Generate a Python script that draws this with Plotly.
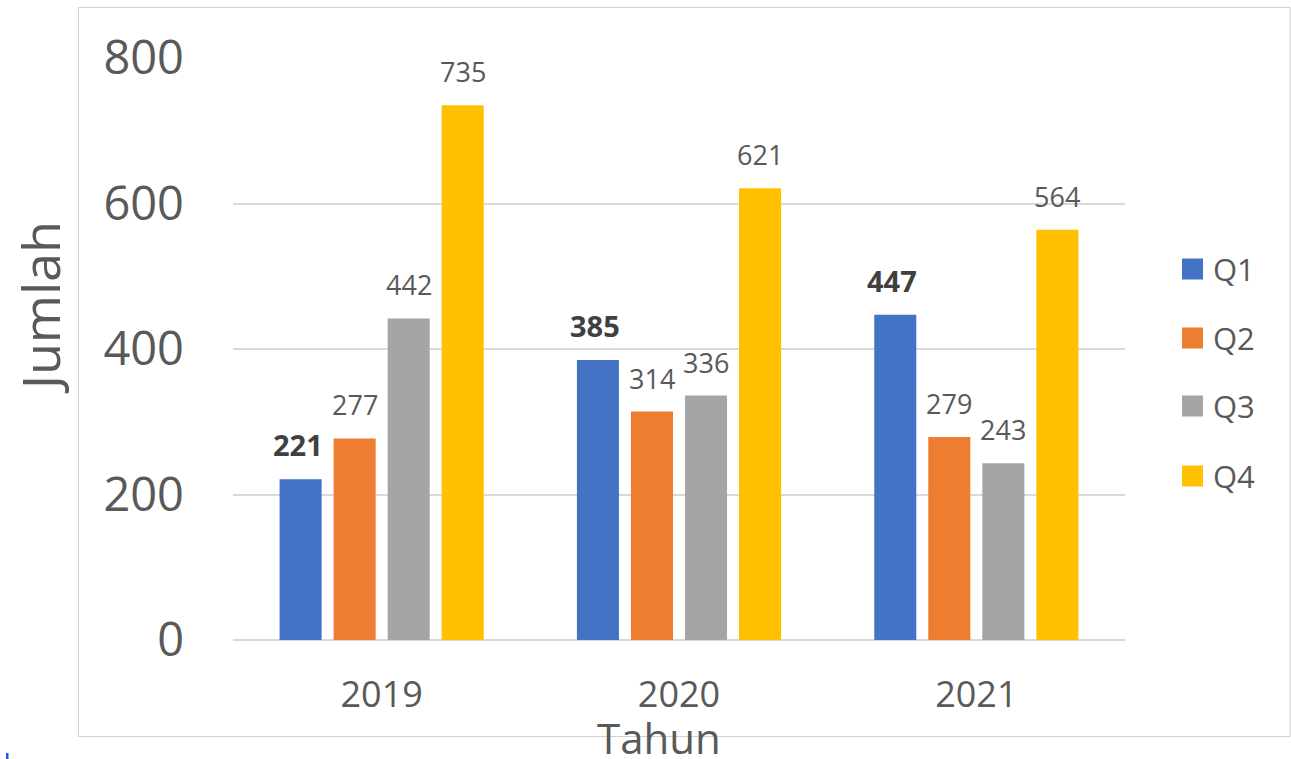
import plotly.graph_objects as go

years = ["2019", "2020", "2021"]
series_names = ["Q1", "Q2", "Q3", "Q4"]
q1 = [221, 385, 447]
q2 = [277, 314, 279]
q3 = [442, 336, 243]
q4 = [735, 621, 564]
series_values = [q1, q2, q3, q4]
colors = ["#4472C4", "#ED7D31", "#A5A5A5", "#FFC000"]
y_ticks = [0, 200, 400, 600, 800]

W, H = 1291, 759
L, R, T, B = 233, 1125, 58, 640  # plot area in pixels
TXT = "#595959"
FONT = "Open Sans"

def px_x(p):
    return (p - L) / (R - L)

def px_y(p):
    return (B - p) / (B - T)

fig = go.Figure()
for name, vals, col in zip(series_names, series_values, colors):
    fig.add_trace(go.Bar(
        x=years, y=vals, name=name, marker=dict(color=col, line=dict(width=0)),
        showlegend=False,
    ))

bargap = 0.273
bargroupgap = 0.222
cat_px = (R - L) / len(years)
slot_px = cat_px * (1 - bargap) / len(series_names)

annotations = []
for i, (name, vals) in enumerate(zip(series_names, series_values)):
    offset = (i - (len(series_names) - 1) / 2) * slot_px
    bold = (i == 0)
    for j, v in enumerate(vals):
        annotations.append(dict(
            x=j, y=v, xref="x", yref="y",
            text=f"<b>{v}</b>" if bold else str(v),
            showarrow=False, xanchor="center", yanchor="bottom",
            xshift=offset - (3 if bold else 0), yshift=13,
            font=dict(family=FONT, size=29 if bold else 27,
                      color="#404040" if bold else TXT),
        ))

# legend (manual, to match the large square swatches)
legend_y = [269, 338, 406, 476]
shapes = []
for name, col, ly in zip(series_names, colors, legend_y):
    shapes.append(dict(type="rect", xref="paper", yref="paper",
                       x0=px_x(1182), x1=px_x(1203), y0=px_y(ly + 10.5), y1=px_y(ly - 10.5),
                       fillcolor=col, line=dict(width=0)))
    annotations.append(dict(x=px_x(1211), y=px_y(ly), xref="paper", yref="paper",
                            text=name, showarrow=False, xanchor="left", yanchor="middle",
                            font=dict(family=FONT, size=31, color=TXT)))

# chart border
shapes.append(dict(type="rect", xref="paper", yref="paper",
                   x0=px_x(78.5), x1=px_x(1290), y0=px_y(736.5), y1=px_y(7.5),
                   line=dict(color="#d0d0d0", width=1), fillcolor="rgba(0,0,0,0)",
                   layer="below"))
# small blue mark bottom-left
shapes.append(dict(type="rect", xref="paper", yref="paper",
                   x0=px_x(6), x1=px_x(8.5), y0=px_y(759), y1=px_y(753),
                   fillcolor="#1f5fbf", line=dict(width=0)))

# axis titles
annotations.append(dict(x=px_x(39), y=px_y(308), xref="paper", yref="paper",
                        text="Jumlah", textangle=-90, showarrow=False,
                        xanchor="center", yanchor="middle",
                        font=dict(family=FONT, size=52, color=TXT)))
annotations.append(dict(x=px_x(659), y=px_y(737), xref="paper", yref="paper",
                        text="Tahun", showarrow=False,
                        xanchor="center", yanchor="middle",
                        font=dict(family=FONT, size=42, color=TXT)))

fig.update_layout(
    width=W, height=H,
    margin=dict(l=L, r=W - R, t=T, b=H - B, pad=0),
    paper_bgcolor="white", plot_bgcolor="white",
    barmode="group", bargap=bargap, bargroupgap=bargroupgap,
    showlegend=False,
    annotations=annotations, shapes=shapes,
    font=dict(family=FONT, color=TXT),
)
fig.update_xaxes(
    type="category", range=[-0.5, len(years) - 0.5], showgrid=False, showline=False, ticks="",
    tickfont=dict(family=FONT, size=36, color=TXT), ticklabelstandoff=30,
    zeroline=False,
)
fig.update_yaxes(
    range=[0, 800], tickvals=y_ticks, showgrid=True, gridcolor="#d9d9d9", gridwidth=2,
    zeroline=True, zerolinecolor="#d9d9d9", zerolinewidth=2, showline=False, ticks="",
    tickfont=dict(family=FONT, size=47, color=TXT), ticklabelstandoff=48,
)

fig.write_html("out.html", config={"displayModeBar": False},
               post_script="document.body.style.margin='0';document.body.style.overflow='hidden';")
